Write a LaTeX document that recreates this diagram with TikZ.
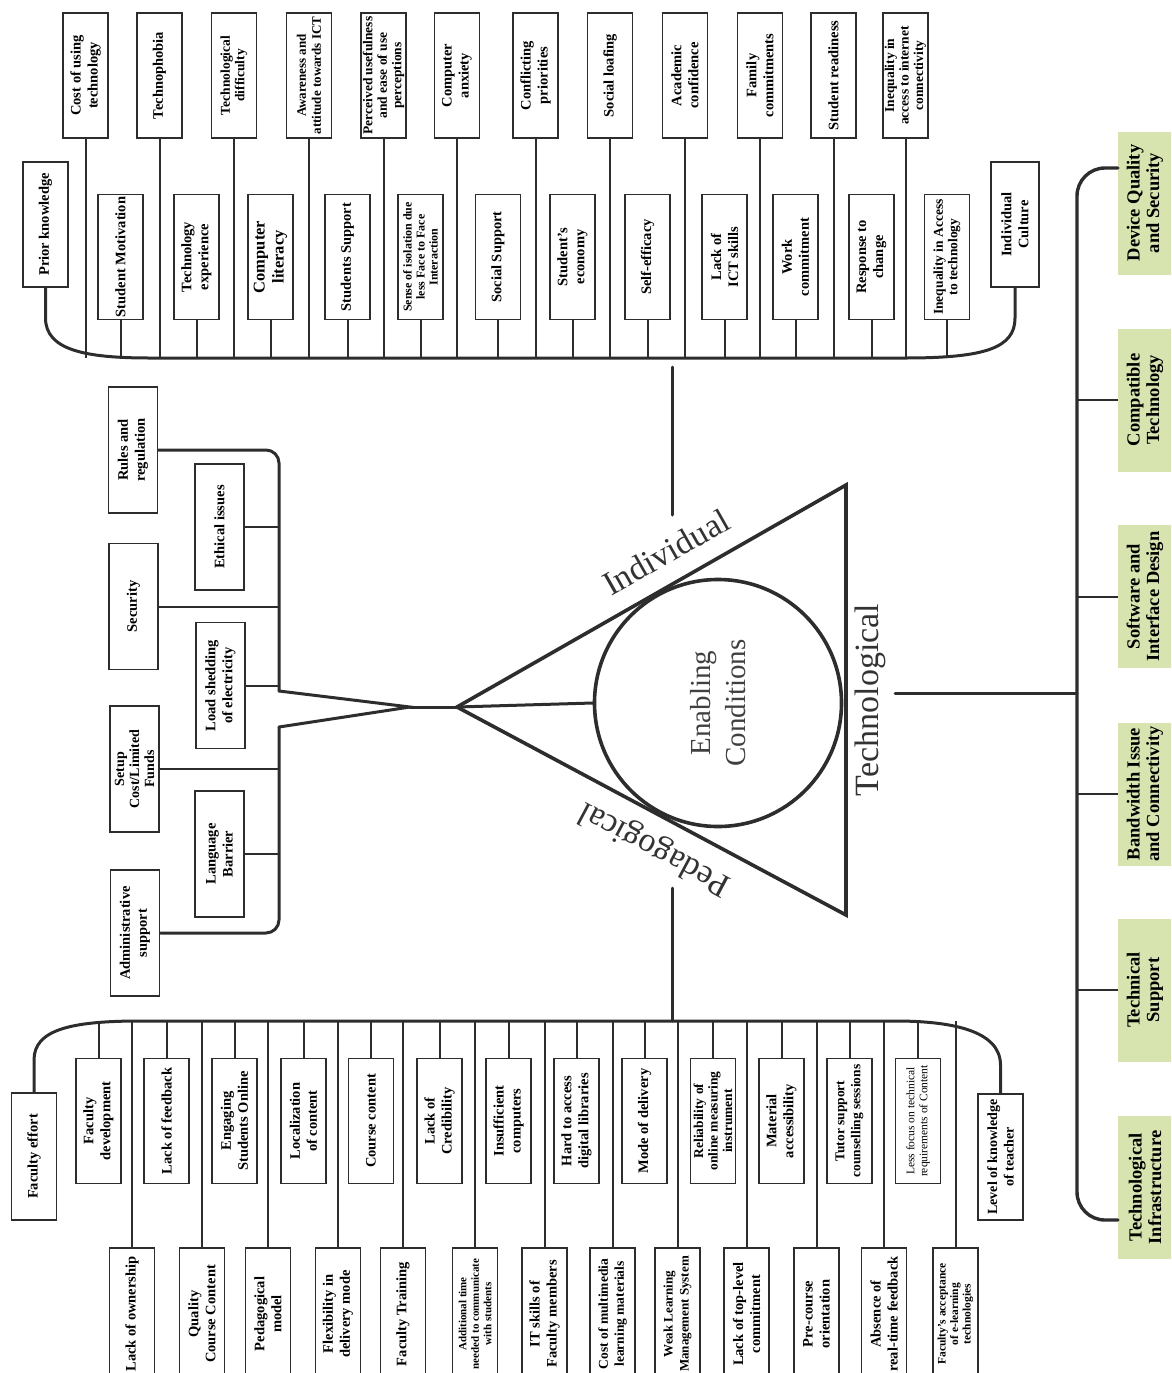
\documentclass[tikz,border=0pt]{standalone}
\usepackage{fontspec}
\setmainfont{Liberation Serif}
\usepackage{tikz}
\usetikzlibrary{calc}
\definecolor{techgreen}{RGB}{216,228,176}
\definecolor{linegray}{RGB}{45,45,45}

\begin{document}
\begin{tikzpicture}[
x=1pt, y=-1pt,
box/.style={rectangle, draw=linegray, line width=1.6pt, fill=white, rotate=90, minimum width=125pt, minimum height=45pt, inner sep=1pt, align=center},
lbox/.style={box, minimum width=126pt, minimum height=49pt},
longbox/.style={box, minimum width=132pt},
gbox/.style={rectangle, fill=techgreen, rotate=90, minimum width=143pt, minimum height=54pt, inner sep=1pt, align=center, font=\bfseries\fontsize{18.5}{19.5}\selectfont},
bigtxt/.style={font=\bfseries\fontsize{14.5}{17}\selectfont},
midtxt/.style={font=\bfseries\fontsize{13.5}{14.5}\selectfont},
smtxt/.style={font=\bfseries\fontsize{11.5}{12.5}\selectfont},
conn/.style={draw=linegray, line width=2pt},
bus/.style={draw=linegray, line width=3pt, line cap=round},
side/.style={font=\fontsize{34}{40}\selectfont, text=black!80, inner sep=1pt}
]
\useasboundingbox (0,0) rectangle (1171,1373);
\clip (0,0) rectangle (1171,1373);

% core: triangle and circle
\coordinate (apex) at (457,707);
\coordinate (tri1) at (846,485);
\coordinate (tri2) at (846,915);
\draw[line width=3.6pt, draw=linegray] (apex) -- (tri1) -- (tri2) -- cycle;
\node[circle, draw=linegray, line width=3.6pt, minimum size=247pt, rotate=90, align=center, font=\fontsize{29}{35}\selectfont, text=black!75] (ec) at (718,703) {Enabling\\Conditions};
\node[side, rotate=29.7] (indlbl) at (666,552) {Individual};
\node[side, rotate=151.9] (pedlbl) at (655,848) {Pedagogical};
\node[side, rotate=90] (teclbl) at (870,700) {Technological};

% individual: upper row
\node[box, bigtxt] (cost) at (85.5,75.5) {Cost of using\\technology};
\node[box, bigtxt] (techpho) at (159.5,75.5) {Technophobia};
\node[box, midtxt] (techdiff) at (234,75.5) {Technological\\difficulty};
\node[box, font=\bfseries\fontsize{13}{15}\selectfont] (aware) at (309,75.5) {Awareness and\\attitude towards ICT};
\node[box, midtxt] (perceived) at (383.5,75.5) {Perceived usefulness\\and ease of use\\perceptions};
\node[box, bigtxt] (anxiety) at (457,75.5) {Computer\\anxiety};
\node[box, bigtxt] (conflict) at (535.5,75.5) {Conflicting\\priorities};
\node[box, bigtxt] (loafing) at (610,75.5) {Social loafing};
\node[box, bigtxt] (academic) at (685,75.5) {Academic\\confidence};
\node[box, bigtxt] (family) at (760,75.5) {Family\\commitments};
\node[box, bigtxt] (readiness) at (833.5,75.5) {Student readiness};
\node[box, midtxt] (ineqnet) at (905.5,75.5) {Inequality in\\access to internet\\connectivity};

% individual: lower row
\node[box, bigtxt] (prior) at (45.5,224.5) {Prior knowledge};
\node[box, bigtxt] (motiv) at (120.5,257) {Student Motivation};
\node[box, bigtxt] (techexp) at (196.5,257) {Technology\\experience};
\node[box, font=\bfseries\fontsize{16.5}{19}\selectfont] (complit) at (270.5,257) {Computer\\literacy};
\node[box, bigtxt] (stusup) at (347.5,257) {Students Support};
\node[box, font=\bfseries\fontsize{12}{13}\selectfont] (isolation) at (420.5,257) {Sense of isolation due\\less Face to Face\\Interaction};
\node[box, bigtxt] (socsup) at (498,257) {Social Support};
\node[box, bigtxt] (economy) at (572.5,257) {Student's\\economy};
\node[box, bigtxt] (selfeff) at (647.5,257) {Self-efficacy};
\node[box, bigtxt] (ictskills) at (724.5,257) {Lack of\\ICT skills};
\node[box, bigtxt] (work) at (795.5,257) {Work\\commitment};
\node[box, bigtxt] (response) at (871.5,257) {Response to\\change};
\node[box, midtxt] (ineqtech) at (947,257) {Inequality in Access\\to technology};
\node[box, bigtxt, minimum height=48pt] (culture) at (1015,224.5) {Individual\\Culture};

\coordinate (ibus) at (0,358);
\draw[bus] (prior.west) -- (45.5,318) .. controls (45.5,350) and (85,358) .. (150,358) -- (905,358) .. controls (985,358) and (1015,348) .. (1015,318) -- (culture.west);
\foreach \n in {cost,techpho,techdiff,aware,perceived,anxiety,conflict,loafing,academic,family,readiness,ineqnet,motiv,techexp,complit,stusup,isolation,socsup,economy,selfeff,ictskills,work,response,ineqtech}
  \draw[conn] (\n.west) -- (\n.west |- ibus);
\coordinate (itop) at (672,367);
\coordinate (ibot) at (672,515);
\draw[bus] (itop) -- (ibot);

% left cluster
\node[lbox, bigtxt] (rules) at (133,450) {Rules and\\regulation};
\node[lbox, bigtxt] (security) at (133.5,606.5) {Security};
\node[lbox, font=\bfseries\fontsize{14}{15}\selectfont] (setup) at (134.5,769) {Setup\\Cost/Limited\\Funds};
\node[lbox, bigtxt] (admin) at (135,933) {Administrative\\support};
\node[lbox, bigtxt] (ethical) at (219.5,527) {Ethical issues};
\node[lbox, bigtxt] (loadshed) at (220.5,685.5) {Load shedding\\of electricity};
\node[lbox, bigtxt] (language) at (219.5,854) {Language\\Barrier};

\coordinate (lup) at (279,691);
\coordinate (llow) at (279,727);
\coordinate (fork) at (410,707);
\draw[bus, rounded corners=13pt] (rules.south) -| (lup);
\draw[bus] (lup) -- (fork) -- (llow);
\draw[bus, rounded corners=13pt] (llow) |- (admin.south);
\foreach \n in {ethical,security,loadshed,setup,language}
  \draw[conn] (\n.south) -- (\n.south -| lup);
\draw[bus] (fork) -- (apex);
\draw[bus] (apex) -- (ec.north);

% pedagogical: upper row
\node[box, bigtxt, minimum width=127pt] (faceff) at (34,1156.5) {Faculty effort};
\node[box, bigtxt] (facdev) at (98.5,1121) {Faculty\\development};
\node[box, bigtxt] (feedback) at (166.5,1121) {Lack of feedback};
\node[box, bigtxt] (engaging) at (234.5,1121) {Engaging\\Students Online};
\node[box, bigtxt] (localiz) at (303.5,1121) {Localization\\of content};
\node[box, bigtxt] (coursec) at (371,1121) {Course content};
\node[box, bigtxt] (credib) at (439.5,1121) {Lack of\\Credibility};
\node[box, bigtxt] (insuff) at (508.5,1121) {Insufficient\\computers};
\node[box, bigtxt] (hardacc) at (576.5,1121) {Hard to access\\digital libraries};
\node[box, bigtxt] (mode) at (644.5,1121) {Mode of delivery};
\node[box, midtxt] (reliab) at (713,1121) {Reliability of\\online measuring\\instrument};
\node[box, bigtxt] (material) at (781.5,1121) {Material\\accessibility};
\node[box, font=\bfseries\fontsize{13.5}{16}\selectfont] (tutor) at (849.5,1121) {Tutor support\\counselling sessions};
\node[box, font=\fontsize{11.5}{13}\selectfont] (lessfocus) at (918,1121) {Less focus on technical\\requirements of Content};
\node[box, font=\bfseries\fontsize{14}{16.5}\selectfont, minimum width=126pt] (levelk) at (1000.5,1157) {Level of knowledge\\of teacher};

% pedagogical: lower row
\node[longbox, bigtxt] (ownership) at (132,1314) {Lack of ownership};
\node[longbox, bigtxt] (quality) at (202,1314) {Quality\\Course Content};
\node[longbox, bigtxt] (pedmodel) at (268,1314) {Pedagogical\\model};
\node[longbox, bigtxt] (flex) at (338,1314) {Flexibility in\\delivery mode};
\node[longbox, bigtxt] (training) at (403,1314) {Faculty Training};
\node[longbox, font=\bfseries\fontsize{11}{12.5}\selectfont] (additional) at (475,1314) {Additional time\\needed to communicate\\with students};
\node[longbox, bigtxt] (itskills) at (544.5,1314) {IT skills of\\Faculty members};
\node[longbox, font=\bfseries\fontsize{13.5}{16}\selectfont] (costmm) at (612.5,1314) {Cost of multimedia\\learning materials};
\node[longbox, font=\bfseries\fontsize{13}{16}\selectfont] (weaklms) at (677.5,1314) {Weak Learning\\Management System};
\node[longbox, bigtxt] (toplevel) at (746.5,1314) {Lack of top-level\\commitment};
\node[longbox, bigtxt] (precourse) at (816.5,1314) {Pre-course\\orientation};
\node[longbox, bigtxt] (absence) at (884,1314) {Absence of\\real-time feedback};
\node[longbox, smtxt] (accept) at (955.5,1314) {Faculty's acceptance\\of e-learning\\technologies};

\coordinate (pbus) at (0,1021);
\draw[bus] (faceff.east) -- (34,1060) .. controls (34,1030) and (70,1021) .. (140,1021) -- (895,1021) .. controls (950,1021) and (1000.5,1030) .. (1000.5,1065) -- (levelk.east);
\foreach \n in {facdev,feedback,engaging,localiz,coursec,credib,insuff,hardacc,mode,reliab,material,tutor,lessfocus,ownership,quality,pedmodel,flex,training,additional,itskills,costmm,weaklms,toplevel,precourse,absence,accept}
  \draw[conn] (\n.east) -- (\n.east |- pbus);
\coordinate (ptop) at (672,888);
\draw[bus] (ptop) -- (ptop |- pbus);

% technological
\node[gbox] (device) at (1145,203) {Device Quality\\and Security};
\node[gbox] (compat) at (1145,400) {Compatible\\Technology};
\node[gbox] (software) at (1145,596.5) {Software and\\Interface Design};
\node[gbox] (bandw) at (1145,794) {Bandwidth Issue\\and Connectivity};
\node[gbox] (techsup) at (1145,990) {Technical\\Support};
\node[gbox] (infra) at (1145,1187.5) {Technological\\Infrastructure};

\coordinate (tline) at (895,693);
\coordinate (rbus) at (1077,693);
\coordinate (devin) at (1118,168);
\coordinate (infin) at (1118,1220);
\draw[bus] (tline) -- (rbus);
\draw[bus, line width=3.4pt, rounded corners=28pt] (devin) -| (rbus) |- (infin);
\foreach \n in {compat,software,bandw,techsup}
  \draw[conn] (\n.north) -- (\n.north -| rbus);

\end{tikzpicture}
\end{document}
